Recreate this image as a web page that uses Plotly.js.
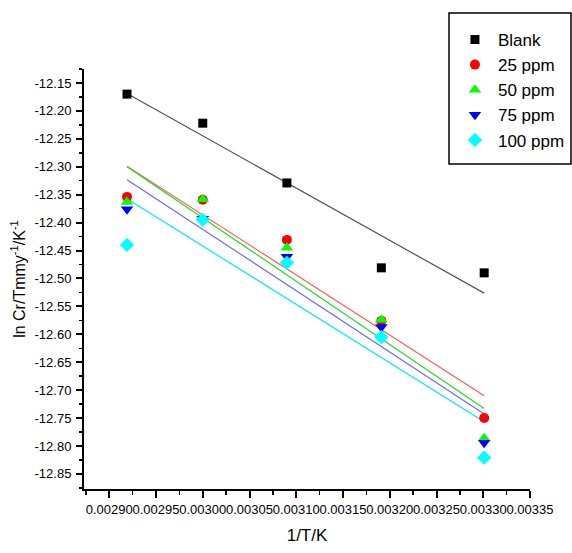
<!DOCTYPE html>
<html>
<head>
<meta charset="utf-8">
<script src="https://cdn.plot.ly/plotly-3.0.1.min.js"></script>
<style>html,body{margin:0;padding:0;background:#fff}#chart{width:572px;height:553px}</style>
</head>
<body>
<div id="chart"></div>
<script>
// ---- data ----
var invT = [0.002919, 0.003000, 0.003090, 0.003191, 0.003301];
var seriesNames = ['Blank', '25 ppm', '50 ppm', '75 ppm', '100 ppm'];
var blank  = [-12.170, -12.222, -12.329, -12.481, -12.490];
var ppm25  = [-12.354, -12.359, -12.431, -12.576, -12.750];
var ppm50  = [-12.363, -12.358, -12.445, -12.574, -12.786];
var ppm75  = [-12.376, -12.393, -12.461, -12.587, -12.794];
var ppm100 = [-12.440, -12.395, -12.472, -12.605, -12.821];
var xTickLabels = ['0.00290','0.00295','0.00300','0.00305','0.00310','0.00315','0.00320','0.00325','0.00330','0.00335'];
var yTickLabels = ['-12.15','-12.20','-12.25','-12.30','-12.35','-12.40','-12.45','-12.50','-12.55','-12.60','-12.65','-12.70','-12.75','-12.80','-12.85'];

// ---- styles ----
var allY = [blank, ppm25, ppm50, ppm75, ppm100];
var markerColors = ['#000000', '#ff0000', '#00ff00', '#0000ff', '#00ffff'];
var lineColors = ['#555555', '#ff5a5a', '#22dd22', '#6b6bff', '#00e8ff'];
var symbols = ['square', 'circle', 'triangle-up', 'triangle-down', 'diamond'];
var sizes = [9, 10, 11, 11, 11];

function fit(xs, ys) {
  var n = xs.length, mx = 0, my = 0;
  for (var i = 0; i < n; i++) { mx += xs[i]; my += ys[i]; }
  mx /= n; my /= n;
  var sxy = 0, sxx = 0;
  for (var j = 0; j < n; j++) { sxy += (xs[j]-mx)*(ys[j]-my); sxx += (xs[j]-mx)*(xs[j]-mx); }
  var b = sxy / sxx, a = my - b*mx;
  var x0 = Math.min.apply(null, xs), x1 = Math.max.apply(null, xs);
  return {x: [x0, x1], y: [a + b*x0, a + b*x1]};
}

var traces = [];
allY.forEach(function(ys, k) {
  var f = fit(invT, ys);
  traces.push({x: f.x, y: f.y, mode: 'lines', showlegend: false, hoverinfo: 'skip',
    line: {color: lineColors[k], width: 1.2}});
});
allY.forEach(function(ys, k) {
  traces.push({x: invT, y: ys, mode: 'markers', name: seriesNames[k],
    marker: {symbol: symbols[k], color: markerColors[k], size: sizes[k], line: {width: 0}}});
});

var font = 'Liberation Sans, Arial, sans-serif';
var layout = {
  width: 572, height: 553,
  margin: {l: 84, r: 42, t: 69, b: 64, autoexpand: false},
  paper_bgcolor: '#ffffff', plot_bgcolor: '#ffffff',
  font: {family: font, color: '#000', size: 13},
  showlegend: true,
  legend: {x: 0.825, xanchor: 'left', y: 1.112, yanchor: 'top',
    borderwidth: 0, bgcolor: 'rgba(0,0,0,0)',
    font: {family: font, size: 17, color: '#000'}, itemwidth: 36, traceorder: 'normal'},
  shapes: [{type: 'rect', xref: 'paper', yref: 'paper', x0: 0.8184, x1: 1.0919, y0: 0.7738, y1: 1.1333,
    line: {color: '#000', width: 1.5}, fillcolor: '#ffffff', layer: 'below'}],
  xaxis: {
    range: [0.002873, 0.00335], automargin: false,
    tickmode: 'array', tickvals: xTickLabels.map(parseFloat), ticktext: xTickLabels, tickangle: 0,
    showline: true, linecolor: '#000', linewidth: 2, mirror: false,
    ticks: 'outside', ticklen: 7, tickwidth: 2, tickcolor: '#000',
    minor: {tickmode: 'linear', tick0: 0.0029, dtick: 0.000025, ticks: 'outside', ticklen: 4, tickwidth: 1.5, tickcolor: '#000'},
    showgrid: false, zeroline: false,
    tickfont: {family: font, size: 13},
    title: {text: '1/T/K', font: {family: font, size: 17}, standoff: 14}
  },
  yaxis: {
    range: [-12.877, -12.125], automargin: false,
    tickmode: 'array', tickvals: yTickLabels.map(parseFloat), ticktext: yTickLabels,
    showline: true, linecolor: '#000', linewidth: 2, mirror: false,
    ticks: 'outside', ticklen: 6, tickwidth: 2, tickcolor: '#000',
    minor: {tickmode: 'linear', tick0: -12.15, dtick: 0.025, ticks: 'outside', ticklen: 3, tickwidth: 1.5, tickcolor: '#000'},
    showgrid: false, zeroline: false,
    tickfont: {family: font, size: 13},
    ticklabelstandoff: 2,
    title: {text: 'ln Cr/Tmmy<sup>-1</sup>/K<sup>-1</sup>', font: {family: font, size: 16}, standoff: 5}
  }
};

Plotly.newPlot('chart', traces, layout, {displayModeBar: false, staticPlot: true});
</script>
</body>
</html>
